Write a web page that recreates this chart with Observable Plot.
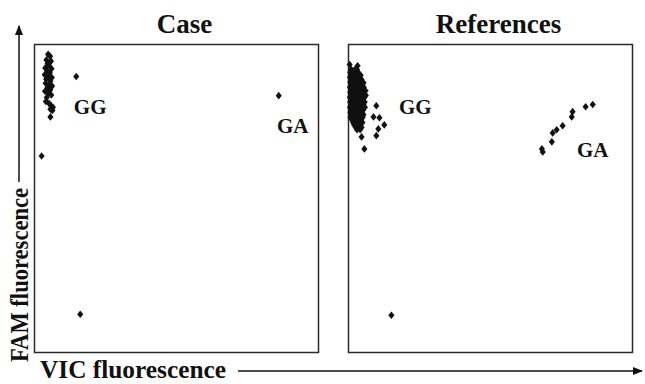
<!DOCTYPE html>
<html>
<head>
<meta charset="utf-8">
<script src="https://cdn.jsdelivr.net/npm/d3@7"></script>
<script src="https://cdn.jsdelivr.net/npm/@observablehq/plot@0.6"></script>
<style>
  html, body { margin: 0; padding: 0; background: #fff; }
  #chart svg { display: block; overflow: visible; }
</style>
</head>
<body>
<div id="chart"></div>
<script>
// Panels
const panels = ["Case", "References"];

// Case panel points [VIC, FAM] (arbitrary fluorescence units 0–100)
const caseGG = [
  [4.8,96.8],[5.5,96.2],[4.2,95.0],[5.8,94.6],[4.6,93.8],[5.2,93.0],[3.8,92.4],[6.0,92.1],
  [4.4,91.4],[5.4,90.8],[3.6,90.2],[4.9,89.6],[6.1,89.3],[4.1,88.7],[5.6,88.1],[3.9,87.4],
  [5.0,86.9],[6.2,86.5],[4.5,85.9],[5.5,85.2],[3.7,84.8],[4.8,84.1],[5.9,83.6],[4.3,82.8],
  [4.0,81.5],[5.1,80.9],[5.8,80.2],[6.5,79.6],[5.6,79.0],[6.3,78.6],[5.6,76.5],[14.7,89.6]
];
const caseGA = [[86.0,83.4]];
const caseOther = [[2.5,63.8],[16.1,12.4]];

// References panel points
const refGG = [
  [0.4,93.5],[3.2,93.1],
  [1.0,91.9],[2.2,91.9],[3.0,91.9],
  [0.6,91.0],[1.6,91.0],[2.6,91.0],[3.4,91.0],
  [0.8,90.2],[1.8,90.2],[2.8,90.2],[3.6,90.2],[4.3,90.0],
  [0.5,89.4],[1.4,89.4],[2.4,89.4],[3.3,89.4],[4.0,89.4],
  [0.9,88.6],[1.9,88.6],[2.9,88.6],[3.8,88.6],[4.6,88.6],
  [0.6,87.8],[1.5,87.8],[2.5,87.8],[3.5,87.8],[4.6,87.8],[5.3,87.6],
  [1.0,87.0],[2.0,87.0],[3.0,87.0],[4.0,87.0],[4.9,87.0],
  [0.5,86.1],[1.4,86.1],[2.4,86.1],[3.4,86.1],[4.4,86.1],[5.4,86.1],
  [0.9,85.3],[1.9,85.3],[2.9,85.3],[3.9,85.3],[5.0,85.3],[6.0,85.0],
  [0.6,84.5],[1.6,84.5],[2.6,84.5],[3.6,84.5],[4.6,84.5],[5.5,84.5],
  [1.0,83.7],[2.0,83.7],[3.0,83.7],[4.1,83.7],[5.1,83.7],[6.1,83.5],
  [0.5,82.9],[1.5,82.9],[2.5,82.9],[3.5,82.9],[4.6,82.9],[5.6,82.9],
  [0.9,82.1],[1.9,82.1],[3.0,82.1],[4.0,82.1],[5.1,82.1],
  [0.6,81.3],[1.6,81.3],[2.6,81.3],[3.6,81.3],[4.7,81.3],[5.7,81.3],
  [1.0,80.5],[2.0,80.5],[3.1,80.5],[4.2,80.5],[5.3,80.5],
  [0.5,79.6],[1.5,79.6],[2.5,79.6],[3.6,79.6],[4.8,79.6],[5.8,79.6],
  [0.9,78.8],[2.0,78.8],[3.0,78.8],[4.1,78.8],[5.2,78.8],
  [0.6,78.0],[1.6,78.0],[2.6,78.0],[3.7,78.0],[4.8,78.0],
  [1.0,77.2],[2.1,77.2],[3.2,77.2],[4.3,77.2],[5.3,77.2],
  [0.7,76.4],[1.7,76.4],[2.8,76.4],[3.9,76.4],[5.0,76.4],
  [1.2,75.6],[2.3,75.6],[3.4,75.6],[4.5,75.6],
  [1.6,74.7],[2.7,74.7],[3.8,74.7],[4.9,74.7],
  [2.0,73.9],[3.1,73.9],[4.2,73.9],
  [2.5,73.1],[3.6,73.1],[4.6,73.1],
  [3.0,72.3],[4.1,72.3],
  [9.8,80.1],[8.8,76.5],[10.9,76.2],[12.6,73.9],[10.5,72.6],[9.8,70.4],[4.6,70.0],[5.6,66.1]
];
const refGA = [
  [68.1,66.1],[68.4,65.1],[71.6,68.4],[71.9,71.3],[73.3,72.3],
  [75.4,73.6],[78.6,76.5],[78.9,78.2],[83.5,79.8],[86.0,80.5]
];
const refOther = [[15.1,12.1]];

// Cluster labels [panel, text, VIC, FAM]
const clusterLabels = [
  ["Case", "GG", 19.6, 79.5],
  ["Case", "GA", 90.9, 73.6],
  ["References", "GG", 23.5, 79.5],
  ["References", "GA", 86.0, 65.8]
];

// Axis titles
const yTitle = "FAM fluorescence";
const xTitle = "VIC fluorescence";

const toRows = (arr, panel) => arr.map(([x, y]) => ({panel, x, y}));
const points = [
  ...toRows(caseGG, "Case"), ...toRows(caseGA, "Case"), ...toRows(caseOther, "Case"),
  ...toRows(refGG, "References"), ...toRows(refGA, "References"), ...toRows(refOther, "References")
];
const labelRows = clusterLabels.map(([panel, text, x, y]) => ({panel, text, x, y}));

const serif = "'Liberation Serif', 'Times New Roman', serif";

// Slightly tall rhombus marker
const rhombus = {
  draw(context, size) {
    const r = Math.sqrt(size / Math.PI);
    const w = r * 0.9, h = r * 1.12;
    context.moveTo(0, -h);
    context.lineTo(w, 0);
    context.lineTo(0, h);
    context.lineTo(-w, 0);
    context.closePath();
  }
};

const chart = Plot.plot({
  width: 645,
  height: 384,
  marginLeft: 33,
  marginRight: 12,
  marginTop: 44,
  marginBottom: 32,
  style: {fontFamily: serif, background: "#fff"},
  fx: {domain: panels, padding: 0.0952, axis: null},
  x: {domain: [0, 100], axis: null},
  y: {domain: [0, 100], axis: null},
  marks: [
    Plot.frame({stroke: "#2a2a2a", strokeWidth: 1.5}),
    Plot.dot(points, {x: "x", y: "y", fx: "panel", symbol: rhombus, r: 3.4, fill: "#111", stroke: "none"}),
    Plot.text(labelRows, {x: "x", y: "y", fx: "panel", text: "text", fontSize: 21, fontWeight: "bold", fill: "#111"}),
    Plot.axisFx({anchor: "top", tickSize: 0, tickPadding: 12, fontSize: 27, fontWeight: "bold", label: null, dx: 8, fill: "#111"})
  ]
});

document.getElementById("chart").appendChild(chart);

// Axis titles with arrows
const svg = d3.select(chart);
const defs = svg.append("defs");
defs.append("marker")
  .attr("id", "arrowhead").attr("viewBox", "0 0 10 10")
  .attr("refX", 9).attr("refY", 5)
  .attr("markerWidth", 7).attr("markerHeight", 7)
  .attr("orient", "auto-start-reverse")
  .append("path").attr("d", "M0,1 L10,5 L0,9 Z").attr("fill", "#111");

const g = svg.append("g").attr("fill", "#111").attr("font-family", serif).attr("font-weight", "bold");
// Y title
g.append("text")
  .attr("transform", "translate(28,362) rotate(-90)")
  .attr("text-anchor", "start")
  .attr("font-size", 26)
  .attr("textLength", 174).attr("lengthAdjust", "spacingAndGlyphs")
  .text(yTitle);
g.append("line")
  .attr("x1", 19).attr("x2", 19).attr("y1", 182).attr("y2", 26)
  .attr("stroke", "#111").attr("stroke-width", 1.5)
  .attr("marker-end", "url(#arrowhead)");
// X title
g.append("text")
  .attr("x", 40).attr("y", 378)
  .attr("text-anchor", "start")
  .attr("font-size", 25)
  .attr("textLength", 186).attr("lengthAdjust", "spacingAndGlyphs")
  .text(xTitle);
g.append("line")
  .attr("x1", 238).attr("x2", 642).attr("y1", 371).attr("y2", 371)
  .attr("stroke", "#111").attr("stroke-width", 1.5)
  .attr("marker-end", "url(#arrowhead)");
</script>
</body>
</html>
